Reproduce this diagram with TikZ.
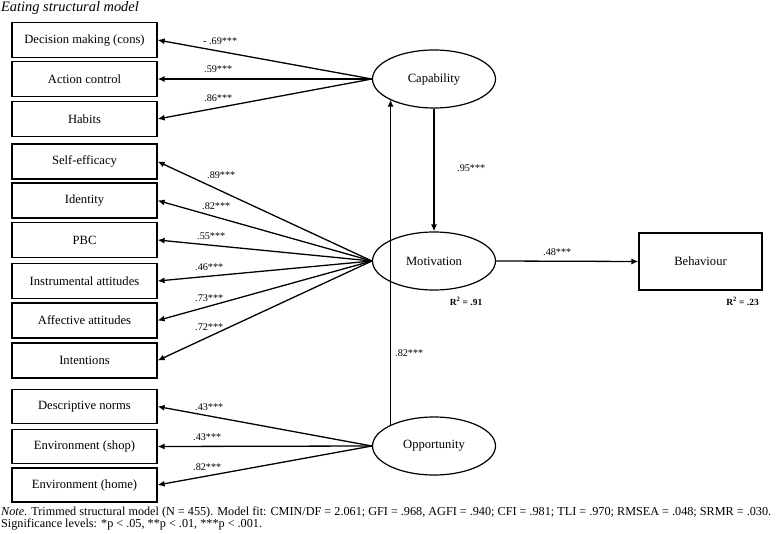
\documentclass[tikz,border=0pt]{standalone}
\usepackage{fontspec}
\setmainfont{Liberation Serif}
\usetikzlibrary{shapes.geometric,arrows.meta}
\begin{document}
\begin{tikzpicture}[x=1pt,y=-1pt,
  box/.style={draw,line width=1.2pt,minimum width=145pt,minimum height=35pt,inner sep=0pt,font=\fontsize{12.6}{14}\selectfont},
  latent/.style={draw,ellipse,line width=1.2pt,minimum width=123pt,minimum height=58pt,inner sep=0pt,font=\fontsize{12.6}{14}\selectfont},
  arr/.style={line width=1.3pt,-{Latex[length=7pt,width=6pt]}},
  lab/.style={anchor=west,inner sep=0pt,font=\fontsize{10.2}{11}\selectfont},
  r2/.style={inner sep=0pt,font=\fontsize{9.4}{10}\selectfont\bfseries}]
\useasboundingbox (0,0) rectangle (778,534);
\node[anchor=west,inner sep=0pt,font=\fontsize{14.4}{16}\selectfont\itshape] (title) at (1,8.5) {Eating structural model};
% boxes
\node[box] (dm) at (84.5,40) {Decision making (cons)};
\node[box] (ac) at (84.5,79) {Action control};
\node[box] (hab) at (84.5,119) {Habits};
\node[box] (se) at (84.5,161.5) {Self-efficacy};
\node[box] (id) at (84.5,200.5) {Identity};
\node[box] (pbc) at (84.5,240) {PBC};
\node[box] (ia) at (84.5,281) {Instrumental attitudes};
\node[box] (aa) at (84.5,320.5) {Affective attitudes};
\node[box] (int) at (84.5,360.5) {Intentions};
\node[box,minimum height=34pt] (dn) at (84.5,406.5) {Descriptive norms};
\node[box,minimum height=34pt] (es) at (84.5,446.5) {Environment (shop)};
\node[box,minimum height=34pt] (eh) at (84.5,485) {Environment (home)};
% latents
\node[latent] (cap) at (434,79) {Capability};
\node[latent] (mot) at (434,261) {Motivation};
\node[latent] (opp) at (434,446) {Opportunity};
\node[draw,line width=1.2pt,minimum width=123pt,minimum height=57pt,inner sep=0pt,font=\fontsize{12.6}{14}\selectfont] (beh) at (700.5,261.5) {Behaviour};
% arrows
\draw[arr] (cap.west) -- (dm.east);
\draw[arr] (cap.west) -- (ac.east);
\draw[arr] (cap.west) -- (hab.east);
\draw[arr] (mot.west) -- (se.east);
\draw[arr] (mot.west) -- (id.east);
\draw[arr] (mot.west) -- (pbc.east);
\draw[arr] (mot.west) -- (ia.east);
\draw[arr] (mot.west) -- (aa.east);
\draw[arr] (mot.west) -- (int.east);
\draw[arr] (opp.west) -- (dn.east);
\draw[arr] (opp.west) -- (es.east);
\draw[arr] (opp.west) -- (eh.east);
\draw[arr] (cap.south) -- (mot.north);
\draw[arr] (opp.154.3) -- (opp.154.3 |- cap.205.7);
\draw[arr] (mot.east) -- (beh.west);
% labels
\node[lab] (l1) at (203,41) {- .69***};
\node[lab] (l2) at (204,69) {.59***};
\node[lab] (l3) at (204,98) {.86***};
\node[lab] (l4) at (207,175) {.89***};
\node[lab] (l5) at (202,206) {.82***};
\node[lab] (l6) at (197,236) {.55***};
\node[lab] (l7) at (195,267) {.46***};
\node[lab] (l8) at (195,298) {.73***};
\node[lab] (l9) at (195,327) {.72***};
\node[lab] (l10) at (195,407) {.43***};
\node[lab] (l11) at (193,437) {.43***};
\node[lab] (l12) at (193,467) {.82***};
\node[lab] (l13) at (457,168) {.95***};
\node[lab] (l14) at (395,353) {.82***};
\node[lab] (l15) at (543,252) {.48***};
\node[r2] (r1) at (466,301) {R\textsuperscript{2} = .91};
\node[r2] (r2b) at (742.5,301) {R\textsuperscript{2} = .23};
% note
\node[anchor=west,inner sep=0pt,font=\fontsize{12.2}{13}\selectfont] (note1) at (1,512.5) {\textit{Note}. Trimmed structural model (N = 455). Model fit: CMIN/DF = 2.061; GFI = .968, AGFI = .940; CFI = .981; TLI = .970; RMSEA = .048; SRMR = .030.};
\node[anchor=west,inner sep=0pt,font=\fontsize{12.2}{13}\selectfont] (note2) at (1,525) {Significance levels: *p < .05, **p < .01, ***p < .001.};
\end{tikzpicture}
\end{document}
